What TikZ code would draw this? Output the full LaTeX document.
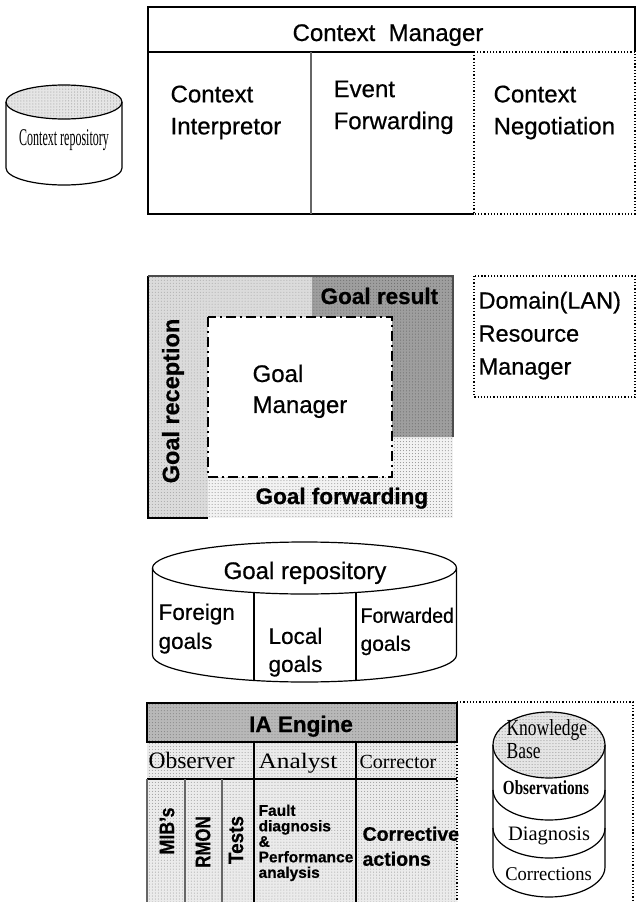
\documentclass[tikz,border=0pt]{standalone}
\usepackage{fontspec}
\setmainfont{Liberation Serif}
\setsansfont{Liberation Sans}[UprightFeatures={FakeBold=0.6}, BoldFeatures={FakeBold=0.6}]
\usepackage{xcolor}
\usepackage{tikz}
\usetikzlibrary{patterns}

\newcommand{\fsz}[2]{\fontsize{#1bp}{#2bp}\selectfont}

\begin{document}
\begin{tikzpicture}[x=1bp, y=1bp, line width=1.2bp,
  txt/.style={inner sep=0pt, align=left},
  sf/.style={txt, font=\sffamily\fsz{24}{32}},
  sfb/.style={txt, font=\sffamily\bfseries\fsz{22.5}{28}},
  rm/.style={txt, font=\rmfamily\fsz{21}{24}},
  cyltop/.style={fill=black!10, postaction={pattern=dots, pattern color=black!45}},
  goalrec/.style={fill=black!14, postaction={pattern=dots, pattern color=black!35}},
  goalres/.style={fill=black!38, postaction={pattern=dots, pattern color=black!60}},
  goalfwd/.style={fill=black!5, postaction={pattern=dots, pattern color=black!45}},
  iahead/.style={fill=black!28, postaction={pattern=dots, pattern color=black!50}},
  iacell/.style={fill=black!8, postaction={pattern=dots, pattern color=black!40}},
  dashdotted/.style={dash pattern=on 10bp off 4bp on 2bp off 4bp}]

\useasboundingbox (0,0) rectangle (637,-902);

\fill[cyltop] (64,-102) ellipse (58 and 17);
\draw (64,-102) ellipse (58 and 17);
\draw (6,-102) -- (6,-168) arc (180:360:58 and 17) -- (122,-102);
\node[rm] (ctxrepo) at (64,-140) {\fsz{24}{26}\scalebox{0.5}[1]{Context repository}};

\draw (148,-52) -- (148,-7) -- (635,-7) -- (635,-52);
\draw (148,-52) -- (474,-52);
\draw (148,-52) -- (148,-214) -- (474,-214);
\draw[black!60] (311,-52) -- (311,-214);
\draw[dotted] (474,-52) rectangle (635,-214);
\node[sf, anchor=base] (ctxmgr) at (388,-41) {Context\ \ Manager};
\node[sf, anchor=north west] (interp) at (170,-85) {Context\\Interpretor};
\node[sf, anchor=north west] (evfwd) at (333,-80) {Event\\Forwarding};
\node[sf, anchor=north west] (negot) at (493,-85) {Context\\Negotiation};

\fill[goalrec] (148,-276) rectangle (453,-518);
\fill[goalfwd] (208,-437) rectangle (453,-518);
\fill[goalres] (312,-276) -- (453,-276) -- (453,-437) -- (392,-437) -- (392,-317) -- (312,-317) -- cycle;
\fill[white] (208,-317) rectangle (392,-477);
\draw[dashdotted] (208,-317) rectangle (392,-477);
\draw (148,-276) -- (148,-518) -- (208,-518);
\draw[black!70] (148,-276) -- (453,-276) -- (453,-437);
\node[sfb, anchor=base west] (goalres) at (320,-304) {Goal result};
\node[sfb, rotate=90, font=\sffamily\bfseries\fsz{23.5}{28}] (goalrec) at (173,-401) {Goal reception};
\node[sf, anchor=north west, font=\sffamily\fsz{24}{31}] (goalmgr) at (252,-364) {Goal\\Manager};
\node[sfb, anchor=base west] (goalfwd) at (255,-504) {Goal forwarding};

\draw[dotted] (474,-276) rectangle (635,-397);
\node[sf, anchor=north west, font=\sffamily\fsz{23.5}{33}] (domain) at (478,-291) {Domain(LAN)\\Resource\\Manager};

\draw (304.5,-568) ellipse (152 and 26);
\draw (152.5,-568) -- (152.5,-655) arc (180:360:152 and 27) -- (456.5,-568);
\draw (254,-592.5) -- (254,-680.5);
\draw (356,-592.5) -- (356,-680.5);
\node[sf, anchor=base] (goalrepo) at (305,-579) {Goal repository};
\node[sf, anchor=north west, font=\sffamily\fsz{22.5}{29}] (foreign) at (158,-603) {Foreign\\goals};
\node[sf, anchor=north west, font=\sffamily\fsz{22.5}{28}] (local) at (268,-627) {Local\\goals};
\node[sf, anchor=north west, font=\sffamily\fsz{21}{28}] (forwarded) at (360,-607) {\scalebox{0.93}[1]{Forwarded}\\goals};

\fill[iacell] (147,-742) rectangle (457,-902);
\fill[iahead] (147,-703) rectangle (457,-742);
\draw (147,-703) rectangle (457,-742);
\draw (254,-742) -- (254,-902) (356,-742) -- (356,-902);
\draw (147,-779) -- (457,-779);
\draw[black!60] (147,-779) -- (147,-902) (185,-779) -- (185,-902) (222,-779) -- (222,-902);
\draw[dotted] (457,-742) -- (457,-902);
\draw[dotted] (457,-702) -- (633,-702) -- (633,-902);
\node[sfb, anchor=base] (iaeng) at (301,-732) {IA Engine};
\node[rm, anchor=base west, font=\rmfamily\fsz{23.5}{24}] (observer) at (148,-768) {Observer};
\node[rm, anchor=base west, font=\rmfamily\fsz{22}{24}] (analyst) at (258,-768) {\scalebox{1.15}[1]{Analyst}};
\node[rm, anchor=base west, font=\rmfamily\fsz{20}{24}] (corrector) at (359,-768) {Corrector};
\node[sfb, rotate=90, font=\sffamily\bfseries\fsz{21}{22}] (mibs) at (167,-831) {\scalebox{0.85}[1]{MIB's}};
\node[sfb, rotate=90, font=\sffamily\bfseries\fsz{21}{22}] (rmon) at (203,-842) {\scalebox{0.8}[1]{RMON}};
\node[sfb, rotate=90, font=\sffamily\bfseries\fsz{21}{22}] (tests) at (236,-840) {\scalebox{0.9}[1]{Tests}};
\node[sfb, anchor=north west, font=\sffamily\bfseries\fsz{15.5}{15.5}] (faultdiag) at (258,-804) {Fault\\diagnosis\\\&\\Performance\\analysis};
\node[sfb, anchor=north west, font=\sffamily\bfseries\fsz{19.5}{25}] (corract) at (362,-826) {Corrective\\actions};

\fill[cyltop] (549,-745) ellipse (56 and 33);
\draw (549,-745) ellipse (56 and 33);
\draw (493,-745) -- (493,-867) arc (180:360:56 and 30) -- (605,-745);
\draw (493,-790) arc (180:360:56 and 30);
\draw (493,-828) arc (180:360:56 and 30);
\node[rm, anchor=north west, font=\rmfamily\fsz{23}{23}] (knowbase) at (506,-719) {\scalebox{0.76}[1]{Knowledge}\\\scalebox{0.76}[1]{Base}};
\node[rm, anchor=base, font=\rmfamily\bfseries\fsz{20}{20}] (observ) at (546,-794) {\scalebox{0.76}[1]{Observations}};
\node[rm, anchor=base, font=\rmfamily\fsz{20.5}{22}] (diagn) at (549,-840) {Diagnosis};
\node[rm, anchor=base, font=\rmfamily\fsz{19.5}{22}] (corrs) at (548.5,-880) {\scalebox{0.95}[1]{Corrections}};
\end{tikzpicture}
\end{document}
